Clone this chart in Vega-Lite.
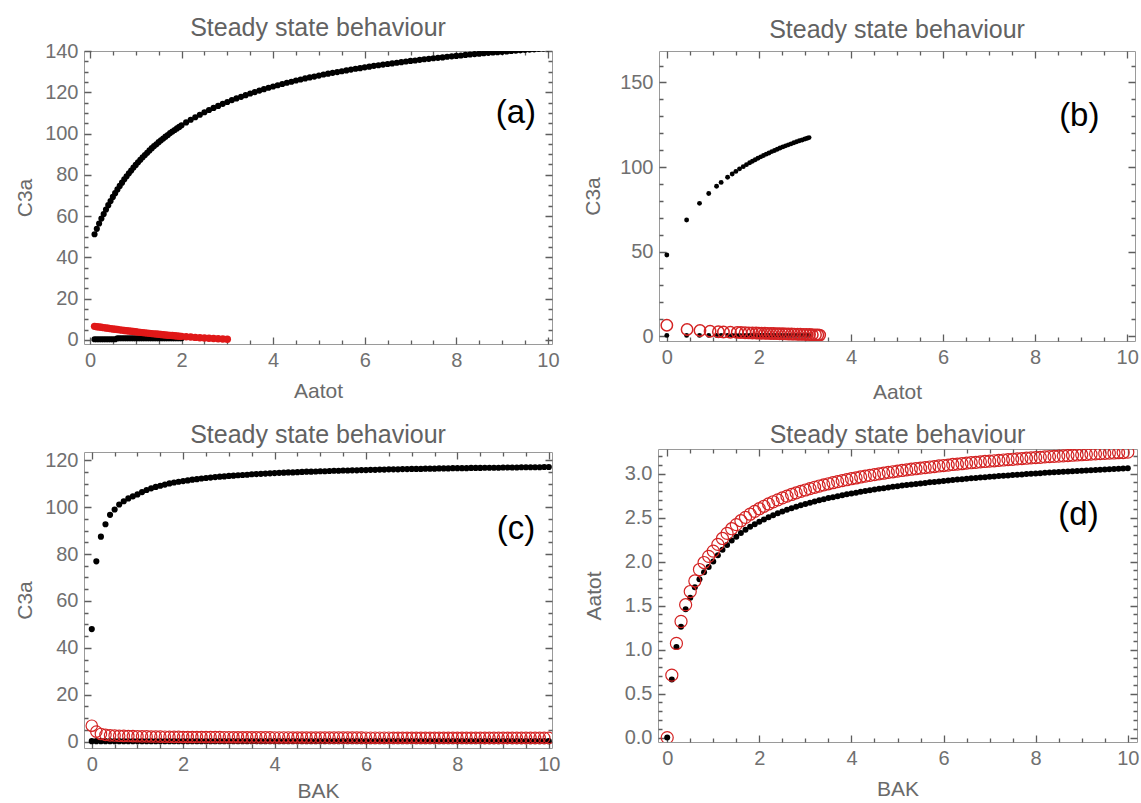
{
"$schema":"https://vega.github.io/schema/vega-lite/v6.json",
"background":"white",
"padding":{"left":14,"top":15,"right":2,"bottom":2},
"config":{
 "font":"Liberation Sans",
 "view":{"stroke":"#9a9a9a","strokeWidth":1},
 "axis":{"domain":false,"ticks":false,"grid":true,"gridColor":"#5e5e5e","gridWidth":1.3,"gridOpacity":1,"labelFont":"Liberation Sans","labelFontSize":20,"labelColor":"#707070","titleFont":"Liberation Sans","titleFontSize":21,"titleColor":"#6a6a6a","titleFontWeight":"normal","labelOverlap":false,"labelFlush":false},
 "title":{"font":"Liberation Sans","fontSize":25,"fontWeight":"normal","color":"#626262","anchor":"middle","frame":"group"}
},
"datasets":{
"a":[
{"A":0.1,"Cb":51.2,"Cr":6.56,"Cl":0.3},{"A":0.15,"Cb":53.8,"Cr":6.4,"Cl":0.3},{"A":0.2,"Cb":56.4,"Cr":6.24,"Cl":0.3},{"A":0.25,"Cb":58.8,"Cr":6.08,"Cl":0.3},{"A":0.3,"Cb":61.0,"Cr":5.92,"Cl":0.3},{"A":0.35,"Cb":63.2,"Cr":5.76,"Cl":0.3},{"A":0.4,"Cb":65.3,"Cr":5.6,"Cl":0.3},{"A":0.45,"Cb":67.3,"Cr":5.45,"Cl":0.3},{"A":0.5,"Cb":69.3,"Cr":5.3,"Cl":0.3},{"A":0.55,"Cb":71.1,"Cr":5.15,"Cl":0.3},
{"A":0.6,"Cb":72.9,"Cr":5.0,"Cl":0.8},{"A":0.65,"Cb":74.6,"Cr":4.86,"Cl":0.8},{"A":0.7,"Cb":76.2,"Cr":4.72,"Cl":0.8},{"A":0.75,"Cb":77.8,"Cr":4.58,"Cl":0.8},{"A":0.8,"Cb":79.3,"Cr":4.44,"Cl":0.8},{"A":0.85,"Cb":80.7,"Cr":4.3,"Cl":0.8},{"A":0.9,"Cb":82.1,"Cr":4.16,"Cl":0.8},{"A":0.95,"Cb":83.5,"Cr":4.03,"Cl":0.8},{"A":1.0,"Cb":84.8,"Cr":3.9,"Cl":0.8},{"A":1.05,"Cb":86.1,"Cr":3.77,"Cl":0.8},
{"A":1.1,"Cb":87.3,"Cr":3.64,"Cl":0.8},{"A":1.15,"Cb":88.5,"Cr":3.52,"Cl":0.8},{"A":1.2,"Cb":89.6,"Cr":3.4,"Cl":0.8},{"A":1.25,"Cb":90.7,"Cr":3.28,"Cl":0.8},{"A":1.3,"Cb":91.8,"Cr":3.16,"Cl":0.8},{"A":1.35,"Cb":92.9,"Cr":3.04,"Cl":0.8},{"A":1.4,"Cb":93.9,"Cr":2.92,"Cl":0.8},{"A":1.45,"Cb":94.8,"Cr":2.81,"Cl":0.8},{"A":1.5,"Cb":95.8,"Cr":2.7,"Cl":0.8},{"A":1.55,"Cb":96.7,"Cr":2.59,"Cl":0.8},
{"A":1.6,"Cb":97.6,"Cr":2.48,"Cl":0.8},{"A":1.65,"Cb":98.5,"Cr":2.38,"Cl":0.8},{"A":1.7,"Cb":99.3,"Cr":2.28,"Cl":0.8},{"A":1.75,"Cb":100.2,"Cr":2.18,"Cl":0.8},{"A":1.8,"Cb":101.0,"Cr":2.08,"Cl":0.8},{"A":1.85,"Cb":101.7,"Cr":1.98,"Cl":0.8},{"A":1.9,"Cb":102.5,"Cr":1.88,"Cl":0.8},{"A":1.95,"Cb":103.2,"Cr":1.79,"Cl":0.8},{"A":2.0,"Cb":104.0,"Cr":1.7,"Cl":0.8},
{"A":2.1,"Cb":105.4,"Cr":1.52},{"A":2.2,"Cb":106.7,"Cr":1.36},{"A":2.3,"Cb":107.9,"Cr":1.2},{"A":2.4,"Cb":109.1,"Cr":1.04},{"A":2.5,"Cb":110.3,"Cr":0.9},{"A":2.6,"Cb":111.4,"Cr":0.76},{"A":2.7,"Cb":112.4,"Cr":0.64},{"A":2.8,"Cb":113.4,"Cr":0.52},{"A":2.9,"Cb":114.4,"Cr":0.4},{"A":3.0,"Cb":115.3,"Cr":0.3},
{"A":3.1,"Cb":116.2},{"A":3.2,"Cb":117.0},{"A":3.3,"Cb":117.8},{"A":3.4,"Cb":118.6},{"A":3.5,"Cb":119.4},{"A":3.6,"Cb":120.1},{"A":3.7,"Cb":120.8},{"A":3.8,"Cb":121.5},{"A":3.9,"Cb":122.2},{"A":4.0,"Cb":122.8},
{"A":4.1,"Cb":123.4},{"A":4.2,"Cb":124.0},{"A":4.3,"Cb":124.6},{"A":4.4,"Cb":125.1},{"A":4.5,"Cb":125.7},{"A":4.6,"Cb":126.2},{"A":4.7,"Cb":126.7},{"A":4.8,"Cb":127.2},{"A":4.9,"Cb":127.6},{"A":5.0,"Cb":128.1},
{"A":5.1,"Cb":128.6},{"A":5.2,"Cb":129.0},{"A":5.3,"Cb":129.4},{"A":5.4,"Cb":129.8},{"A":5.5,"Cb":130.2},{"A":5.6,"Cb":130.6},{"A":5.7,"Cb":131.0},{"A":5.8,"Cb":131.4},{"A":5.9,"Cb":131.7},{"A":6.0,"Cb":132.1},
{"A":6.1,"Cb":132.4},{"A":6.2,"Cb":132.8},{"A":6.3,"Cb":133.1},{"A":6.4,"Cb":133.4},{"A":6.5,"Cb":133.7},{"A":6.6,"Cb":134.0},{"A":6.7,"Cb":134.3},{"A":6.8,"Cb":134.6},{"A":6.9,"Cb":134.9},{"A":7.0,"Cb":135.2},
{"A":7.1,"Cb":135.4},{"A":7.2,"Cb":135.7},{"A":7.3,"Cb":136.0},{"A":7.4,"Cb":136.2},{"A":7.5,"Cb":136.5},{"A":7.6,"Cb":136.7},{"A":7.7,"Cb":136.9},{"A":7.8,"Cb":137.2},{"A":7.9,"Cb":137.4},{"A":8.0,"Cb":137.6},
{"A":8.1,"Cb":137.8},{"A":8.2,"Cb":138.1},{"A":8.3,"Cb":138.3},{"A":8.4,"Cb":138.5},{"A":8.5,"Cb":138.7},{"A":8.6,"Cb":138.9},{"A":8.7,"Cb":139.1},{"A":8.8,"Cb":139.3},{"A":8.9,"Cb":139.4},{"A":9.0,"Cb":139.6},
{"A":9.1,"Cb":139.8},{"A":9.2,"Cb":140.0},{"A":9.3,"Cb":140.2},{"A":9.4,"Cb":140.3},{"A":9.5,"Cb":140.5},{"A":9.6,"Cb":140.7},{"A":9.7,"Cb":140.8},{"A":9.8,"Cb":141.0},{"A":9.9,"Cb":141.1},{"A":10.0,"Cb":141.3}
],
"b":[
{"Ab":0,"Cb":48.0,"Ar":0.0,"Cr":6.4,"Cl":0.4},{"Ab":0.43,"Cb":68.7,"Ar":0.44,"Cr":3.9,"Cl":0.4},{"Ab":0.71,"Cb":78.5,"Ar":0.72,"Cr":3.3,"Cl":0.4},{"Ab":0.91,"Cb":84.3,"Ar":0.94,"Cr":2.9,"Cl":0.4},{"Ab":1.08,"Cb":88.6,"Ar":1.12,"Cr":2.6,"Cl":0.4},{"Ab":1.18,"Cb":90.9,"Ar":1.23,"Cr":2.4,"Cl":0.4},{"Ab":1.32,"Cb":93.9,"Ar":1.38,"Cr":2.3,"Cl":0.4},
{"Ab":1.42,"Cb":95.9,"Ar":1.53,"Cr":2.2,"Cl":0.4},{"Ab":1.5,"Cb":97.4,"Ar":1.61,"Cr":2.1,"Cl":0.4},{"Ab":1.58,"Cb":98.9,"Ar":1.7,"Cr":2.0,"Cl":0.4},{"Ab":1.66,"Cb":100.2,"Ar":1.78,"Cr":1.9,"Cl":0.4},{"Ab":1.73,"Cb":101.4,"Ar":1.86,"Cr":1.85,"Cl":0.4},{"Ab":1.8,"Cb":102.5,"Ar":1.94,"Cr":1.8,"Cl":0.4},{"Ab":1.86,"Cb":103.4,"Ar":2.0,"Cr":1.75,"Cl":0.4},
{"Ab":1.92,"Cb":104.3,"Ar":2.06,"Cr":1.7,"Cl":0.4},{"Ab":1.98,"Cb":105.2,"Ar":2.13,"Cr":1.65,"Cl":0.4},{"Ab":2.04,"Cb":106.0,"Ar":2.19,"Cr":1.6,"Cl":0.4},{"Ab":2.1,"Cb":106.8,"Ar":2.26,"Cr":1.55,"Cl":0.4},{"Ab":2.16,"Cb":107.6,"Ar":2.32,"Cr":1.5,"Cl":0.4},{"Ab":2.22,"Cb":108.3,"Ar":2.39,"Cr":1.45,"Cl":0.4},{"Ab":2.28,"Cb":109.1,"Ar":2.45,"Cr":1.4,"Cl":0.4},
{"Ab":2.34,"Cb":109.8,"Ar":2.52,"Cr":1.35,"Cl":0.4},{"Ab":2.4,"Cb":110.5,"Ar":2.58,"Cr":1.3,"Cl":0.4},{"Ab":2.46,"Cb":111.2,"Ar":2.64,"Cr":1.25,"Cl":0.4},{"Ab":2.52,"Cb":111.9,"Ar":2.71,"Cr":1.2,"Cl":0.4},{"Ab":2.58,"Cb":112.5,"Ar":2.77,"Cr":1.15,"Cl":0.4},{"Ab":2.64,"Cb":113.1,"Ar":2.84,"Cr":1.1,"Cl":0.4},{"Ab":2.7,"Cb":113.7,"Ar":2.9,"Cr":1.05,"Cl":0.4},
{"Ab":2.76,"Cb":114.3,"Ar":2.97,"Cr":1.0,"Cl":0.4},{"Ab":2.82,"Cb":114.9,"Ar":3.03,"Cr":0.95,"Cl":0.4},{"Ab":2.88,"Cb":115.5,"Ar":3.1,"Cr":0.9,"Cl":0.4},{"Ab":2.94,"Cb":116.0,"Ar":3.16,"Cr":0.8,"Cl":0.4},{"Ab":3.0,"Cb":116.6,"Ar":3.23,"Cr":0.75,"Cl":0.4},{"Ab":3.05,"Cb":117.0,"Ar":3.28,"Cr":0.7,"Cl":0.4},{"Ab":3.09,"Cb":117.4,"Ar":3.32,"Cr":0.6,"Cl":0.4}
],
"cd":[
{"BAK":0,"Ab":0,"Ar":0,"Cb":48,"Cr":6.8,"Cl":0.2},{"BAK":0.1,"Ab":0.66,"Ar":0.71,"Cb":76.9,"Cr":4.3,"Cl":0.2},{"BAK":0.2,"Ab":1.03,"Ar":1.07,"Cb":87.4,"Cr":3.3,"Cl":0.2},{"BAK":0.3,"Ab":1.26,"Ar":1.32,"Cb":92.7,"Cr":2.9,"Cl":0.2},{"BAK":0.4,"Ab":1.46,"Ar":1.51,"Cb":96.7,"Cr":2.7,"Cl":0.2},{"BAK":0.5,"Ab":1.59,"Ar":1.66,"Cb":99.0,"Cr":2.6,"Cl":0.2},{"BAK":0.6,"Ab":1.71,"Ar":1.78,"Cb":101.1,"Cr":2.5,"Cl":0.2},{"BAK":0.7,"Ab":1.8,"Ar":1.91,"Cb":102.5,"Cr":2.45,"Cl":0.2},{"BAK":0.8,"Ab":1.88,"Ar":1.99,"Cb":103.7,"Cr":2.4,"Cl":0.2},{"BAK":0.9,"Ab":1.94,"Ar":2.06,"Cb":104.6,"Cr":2.35,"Cl":0.2},
{"BAK":1.0,"Ab":2.0,"Ar":2.12,"Cb":105.4,"Cr":2.3,"Cl":0.2},{"BAK":1.1,"Ab":2.072,"Ar":2.196,"Cb":106.4,"Cr":2.27,"Cl":0.2},{"BAK":1.2,"Ab":2.135,"Ar":2.263,"Cb":107.3,"Cr":2.24,"Cl":0.2},{"BAK":1.3,"Ab":2.19,"Ar":2.321,"Cb":108.0,"Cr":2.21,"Cl":0.2},{"BAK":1.4,"Ab":2.24,"Ar":2.374,"Cb":108.6,"Cr":2.18,"Cl":0.2},{"BAK":1.5,"Ab":2.284,"Ar":2.421,"Cb":109.1,"Cr":2.15,"Cl":0.2},{"BAK":1.6,"Ab":2.325,"Ar":2.465,"Cb":109.6,"Cr":2.12,"Cl":0.2},{"BAK":1.7,"Ab":2.361,"Ar":2.503,"Cb":110.1,"Cr":2.09,"Cl":0.2},{"BAK":1.8,"Ab":2.395,"Ar":2.539,"Cb":110.5,"Cr":2.06,"Cl":0.2},{"BAK":1.9,"Ab":2.425,"Ar":2.571,"Cb":110.8,"Cr":2.03,"Cl":0.2},
{"BAK":2.0,"Ab":2.454,"Ar":2.601,"Cb":111.1,"Cr":2.0,"Cl":0.2},{"BAK":2.1,"Ab":2.48,"Ar":2.629,"Cb":111.4,"Cr":1.99,"Cl":0.2},{"BAK":2.2,"Ab":2.505,"Ar":2.655,"Cb":111.7,"Cr":1.98,"Cl":0.2},{"BAK":2.3,"Ab":2.528,"Ar":2.68,"Cb":111.9,"Cr":1.97,"Cl":0.2},{"BAK":2.4,"Ab":2.549,"Ar":2.702,"Cb":112.2,"Cr":1.96,"Cl":0.2},{"BAK":2.5,"Ab":2.57,"Ar":2.724,"Cb":112.4,"Cr":1.95,"Cl":0.2},{"BAK":2.6,"Ab":2.589,"Ar":2.744,"Cb":112.6,"Cr":1.94,"Cl":0.2},{"BAK":2.7,"Ab":2.607,"Ar":2.763,"Cb":112.8,"Cr":1.93,"Cl":0.2},{"BAK":2.8,"Ab":2.624,"Ar":2.781,"Cb":113.0,"Cr":1.92,"Cl":0.2},{"BAK":2.9,"Ab":2.64,"Ar":2.798,"Cb":113.1,"Cr":1.91,"Cl":0.2},
{"BAK":3.0,"Ab":2.655,"Ar":2.814,"Cb":113.3,"Cr":1.9,"Cl":0.2},{"BAK":3.1,"Ab":2.67,"Ar":2.83,"Cb":113.4,"Cr":1.89,"Cl":0.2},{"BAK":3.2,"Ab":2.684,"Ar":2.845,"Cb":113.6,"Cr":1.88,"Cl":0.2},{"BAK":3.3,"Ab":2.697,"Ar":2.859,"Cb":113.7,"Cr":1.87,"Cl":0.2},{"BAK":3.4,"Ab":2.709,"Ar":2.872,"Cb":113.8,"Cr":1.86,"Cl":0.2},{"BAK":3.5,"Ab":2.722,"Ar":2.885,"Cb":114.0,"Cr":1.85,"Cl":0.2},{"BAK":3.6,"Ab":2.733,"Ar":2.897,"Cb":114.1,"Cr":1.84,"Cl":0.2},{"BAK":3.7,"Ab":2.744,"Ar":2.909,"Cb":114.2,"Cr":1.83,"Cl":0.2},{"BAK":3.8,"Ab":2.755,"Ar":2.92,"Cb":114.3,"Cr":1.82,"Cl":0.2},{"BAK":3.9,"Ab":2.765,"Ar":2.931,"Cb":114.4,"Cr":1.81,"Cl":0.2},
{"BAK":4.0,"Ab":2.775,"Ar":2.942,"Cb":114.5,"Cr":1.8,"Cl":0.2},{"BAK":4.1,"Ab":2.784,"Ar":2.951,"Cb":114.6,"Cr":1.8,"Cl":0.2},{"BAK":4.2,"Ab":2.794,"Ar":2.962,"Cb":114.7,"Cr":1.79,"Cl":0.2},{"BAK":4.3,"Ab":2.803,"Ar":2.971,"Cb":114.8,"Cr":1.79,"Cl":0.2},{"BAK":4.4,"Ab":2.811,"Ar":2.98,"Cb":114.8,"Cr":1.78,"Cl":0.2},{"BAK":4.5,"Ab":2.819,"Ar":2.988,"Cb":114.9,"Cr":1.78,"Cl":0.2},{"BAK":4.6,"Ab":2.827,"Ar":2.997,"Cb":115.0,"Cr":1.77,"Cl":0.2},{"BAK":4.7,"Ab":2.835,"Ar":3.005,"Cb":115.1,"Cr":1.77,"Cl":0.2},{"BAK":4.8,"Ab":2.843,"Ar":3.014,"Cb":115.1,"Cr":1.76,"Cl":0.2},{"BAK":4.9,"Ab":2.85,"Ar":3.021,"Cb":115.2,"Cr":1.76,"Cl":0.2},
{"BAK":5.0,"Ab":2.857,"Ar":3.028,"Cb":115.3,"Cr":1.75,"Cl":0.2},{"BAK":5.1,"Ab":2.864,"Ar":3.036,"Cb":115.3,"Cr":1.75,"Cl":0.2},{"BAK":5.2,"Ab":2.87,"Ar":3.042,"Cb":115.4,"Cr":1.74,"Cl":0.2},{"BAK":5.3,"Ab":2.877,"Ar":3.05,"Cb":115.5,"Cr":1.74,"Cl":0.2},{"BAK":5.4,"Ab":2.883,"Ar":3.056,"Cb":115.5,"Cr":1.73,"Cl":0.2},{"BAK":5.5,"Ab":2.889,"Ar":3.062,"Cb":115.6,"Cr":1.73,"Cl":0.2},{"BAK":5.6,"Ab":2.895,"Ar":3.069,"Cb":115.6,"Cr":1.72,"Cl":0.2},{"BAK":5.7,"Ab":2.901,"Ar":3.075,"Cb":115.7,"Cr":1.72,"Cl":0.2},{"BAK":5.8,"Ab":2.906,"Ar":3.08,"Cb":115.7,"Cr":1.71,"Cl":0.2},{"BAK":5.9,"Ab":2.912,"Ar":3.087,"Cb":115.8,"Cr":1.71,"Cl":0.2},
{"BAK":6.0,"Ab":2.917,"Ar":3.092,"Cb":115.8,"Cr":1.7,"Cl":0.2},{"BAK":6.1,"Ab":2.922,"Ar":3.097,"Cb":115.9,"Cr":1.7,"Cl":0.2},{"BAK":6.2,"Ab":2.928,"Ar":3.104,"Cb":115.9,"Cr":1.69,"Cl":0.2},{"BAK":6.3,"Ab":2.932,"Ar":3.108,"Cb":116.0,"Cr":1.69,"Cl":0.2},{"BAK":6.4,"Ab":2.937,"Ar":3.113,"Cb":116.0,"Cr":1.69,"Cl":0.2},{"BAK":6.5,"Ab":2.942,"Ar":3.119,"Cb":116.1,"Cr":1.69,"Cl":0.2},{"BAK":6.6,"Ab":2.947,"Ar":3.124,"Cb":116.1,"Cr":1.68,"Cl":0.2},{"BAK":6.7,"Ab":2.951,"Ar":3.128,"Cb":116.1,"Cr":1.68,"Cl":0.2},{"BAK":6.8,"Ab":2.956,"Ar":3.133,"Cb":116.2,"Cr":1.68,"Cl":0.2},{"BAK":6.9,"Ab":2.96,"Ar":3.138,"Cb":116.2,"Cr":1.68,"Cl":0.2},
{"BAK":7.0,"Ab":2.964,"Ar":3.142,"Cb":116.3,"Cr":1.67,"Cl":0.2},{"BAK":7.1,"Ab":2.968,"Ar":3.146,"Cb":116.3,"Cr":1.67,"Cl":0.2},{"BAK":7.2,"Ab":2.972,"Ar":3.15,"Cb":116.3,"Cr":1.67,"Cl":0.2},{"BAK":7.3,"Ab":2.976,"Ar":3.155,"Cb":116.4,"Cr":1.67,"Cl":0.2},{"BAK":7.4,"Ab":2.98,"Ar":3.159,"Cb":116.4,"Cr":1.66,"Cl":0.2},{"BAK":7.5,"Ab":2.984,"Ar":3.163,"Cb":116.4,"Cr":1.66,"Cl":0.2},{"BAK":7.6,"Ab":2.988,"Ar":3.167,"Cb":116.5,"Cr":1.66,"Cl":0.2},{"BAK":7.7,"Ab":2.991,"Ar":3.17,"Cb":116.5,"Cr":1.66,"Cl":0.2},{"BAK":7.8,"Ab":2.995,"Ar":3.175,"Cb":116.5,"Cr":1.65,"Cl":0.2},{"BAK":7.9,"Ab":2.999,"Ar":3.179,"Cb":116.6,"Cr":1.65,"Cl":0.2},
{"BAK":8.0,"Ab":3.002,"Ar":3.182,"Cb":116.6,"Cr":1.65,"Cl":0.2},{"BAK":8.1,"Ab":3.005,"Ar":3.185,"Cb":116.6,"Cr":1.65,"Cl":0.2},{"BAK":8.2,"Ab":3.009,"Ar":3.19,"Cb":116.6,"Cr":1.64,"Cl":0.2},{"BAK":8.3,"Ab":3.012,"Ar":3.193,"Cb":116.7,"Cr":1.64,"Cl":0.2},{"BAK":8.4,"Ab":3.015,"Ar":3.196,"Cb":116.7,"Cr":1.64,"Cl":0.2},{"BAK":8.5,"Ab":3.018,"Ar":3.199,"Cb":116.7,"Cr":1.64,"Cl":0.2},{"BAK":8.6,"Ab":3.021,"Ar":3.202,"Cb":116.8,"Cr":1.63,"Cl":0.2},{"BAK":8.7,"Ab":3.024,"Ar":3.205,"Cb":116.8,"Cr":1.63,"Cl":0.2},{"BAK":8.8,"Ab":3.027,"Ar":3.209,"Cb":116.8,"Cr":1.63,"Cl":0.2},{"BAK":8.9,"Ab":3.03,"Ar":3.212,"Cb":116.8,"Cr":1.63,"Cl":0.2},
{"BAK":9.0,"Ab":3.033,"Ar":3.215,"Cb":116.9,"Cr":1.62,"Cl":0.2},{"BAK":9.1,"Ab":3.036,"Ar":3.218,"Cb":116.9,"Cr":1.62,"Cl":0.2},{"BAK":9.2,"Ab":3.039,"Ar":3.221,"Cb":116.9,"Cr":1.62,"Cl":0.2},{"BAK":9.3,"Ab":3.042,"Ar":3.225,"Cb":116.9,"Cr":1.62,"Cl":0.2},{"BAK":9.4,"Ab":3.044,"Ar":3.227,"Cb":117.0,"Cr":1.61,"Cl":0.2},{"BAK":9.5,"Ab":3.047,"Ar":3.23,"Cb":117.0,"Cr":1.61,"Cl":0.2},{"BAK":9.6,"Ab":3.05,"Ar":3.233,"Cb":117.0,"Cr":1.61,"Cl":0.2},{"BAK":9.7,"Ab":3.052,"Ar":3.235,"Cb":117.0,"Cr":1.61,"Cl":0.2},{"BAK":9.8,"Ab":3.055,"Ar":3.238,"Cb":117.0,"Cr":1.6,"Cl":0.2},{"BAK":9.9,"Ab":3.057,"Ar":3.24,"Cb":117.1,"Cr":1.6,"Cl":0.2},
{"BAK":10.0,"Ab":3.06,"Ar":3.244,"Cb":117.1,"Cr":1.6,"Cl":0.2}
]
},
"columns":2,
"align":"none",
"bounds":"full",
"spacing":{"row":19,"column":21},
"concat":[
 {"width":468,"height":293,"title":{"text":"Steady state behaviour","offset":0},
  "data":{"name":"a"},
  "layer":[
   {"transform":[{"fold":["Cb","Cl"],"as":["series","C"]}],
    "mark":{"type":"point","filled":true,"color":"#000000","opacity":1,"size":38,"clip":true},
    "encoding":{
     "x":{"field":"A","type":"quantitative","scale":{"domain":[-0.13,10.09],"nice":false,"zero":false},
      "axis":{"title":"Aatot","format":"~g","values":[0,0.5,1,1.5,2,2.5,3,3.5,4,4.5,5,5.5,6,6.5,7,7.5,8,8.5,9,9.5,10],"gridDash":{"condition":{"test":"datum.value % 2 === 0","value":[7,279,7,1000]},"value":[4,285,4,1000]},"labelExpr":"datum.value % 2 === 0 ? datum.label : ''","labelPadding":6,"titlePadding":10}},
     "y":{"field":"C","type":"quantitative","scale":{"domain":[-2,140],"nice":false,"zero":false},
      "axis":{"title":"C3a","values":[0,5,10,15,20,25,30,35,40,45,50,55,60,65,70,75,80,85,90,95,100,105,110,115,120,125,130,135,140],"gridDash":{"condition":{"test":"datum.value % 20 === 0","value":[7,454,7,1000]},"value":[4,460,4,1000]},"labelExpr":"datum.value % 20 === 0 ? datum.label : ''","labelPadding":6,"titlePadding":9}}
    }},
   {"mark":{"type":"point","filled":true,"color":"#e01818","opacity":1,"size":55,"clip":true},
    "encoding":{
     "x":{"field":"A","type":"quantitative","scale":{"domain":[-0.13,10.09],"nice":false,"zero":false},"axis":null},
     "y":{"field":"Cr","type":"quantitative","scale":{"domain":[-2,140],"nice":false,"zero":false},"axis":null}
    }},
   {"data":{"values":[{}]},
    "mark":{"type":"text","font":"Liberation Sans","fontSize":33,"color":"#000000","align":"center","baseline":"middle"},
    "encoding":{"x":{"datum":9.3,"type":"quantitative","axis":null},"y":{"datum":110,"type":"quantitative","axis":null},"text":{"value":"(a)"}}}
  ],
  "resolve":{"axis":{"x":"independent","y":"independent"}}
 },
 {"width":476,"height":290,"title":{"text":"Steady state behaviour","offset":8},
  "data":{"name":"b"},
  "layer":[
   {"transform":[{"fold":["Cb","Cl"],"as":["series","C"]}],
    "mark":{"type":"point","filled":true,"color":"#000000","opacity":1,"size":24,"clip":true},
    "encoding":{
     "x":{"field":"Ab","type":"quantitative","scale":{"domain":[-0.17,10.17],"nice":false,"zero":false},
      "axis":{"title":"Aatot","format":"~g","values":[0,0.5,1,1.5,2,2.5,3,3.5,4,4.5,5,5.5,6,6.5,7,7.5,8,8.5,9,9.5,10],"gridDash":{"condition":{"test":"datum.value % 2 === 0","value":[7,276,7,1000]},"value":[4,282,4,1000]},"labelExpr":"datum.value % 2 === 0 ? datum.label : ''","labelPadding":6,"titlePadding":14}},
     "y":{"field":"C","type":"quantitative","scale":{"domain":[-2.9,168.6],"nice":false,"zero":false},
      "axis":{"title":"C3a","values":[0,10,20,30,40,50,60,70,80,90,100,110,120,130,140,150,160],"gridDash":{"condition":{"test":"datum.value % 50 === 0","value":[7,462,7,1000]},"value":[4,468,4,1000]},"labelExpr":"datum.value % 50 === 0 ? datum.label : ''","labelPadding":6,"titlePadding":16}}
    }},
   {"mark":{"type":"point","filled":false,"color":"#d42323","strokeWidth":1.5,"opacity":1,"size":130,"clip":true},
    "encoding":{
     "x":{"field":"Ar","type":"quantitative","scale":{"domain":[-0.17,10.17],"nice":false,"zero":false},"axis":null},
     "y":{"field":"Cr","type":"quantitative","scale":{"domain":[-2.9,168.6],"nice":false,"zero":false},"axis":null}
    }},
   {"data":{"values":[{}]},
    "mark":{"type":"text","font":"Liberation Sans","fontSize":33,"color":"#000000","align":"center","baseline":"middle"},
    "encoding":{"x":{"datum":8.96,"type":"quantitative","axis":null},"y":{"datum":130,"type":"quantitative","axis":null},"text":{"value":"(b)"}}}
  ],
  "resolve":{"axis":{"x":"independent","y":"independent"}}
 },
 {"width":468,"height":296,"title":{"text":"Steady state behaviour","offset":2},
  "data":{"name":"cd"},
  "layer":[
   {"transform":[{"fold":["Cb","Cl"],"as":["series","C"]}],
    "mark":{"type":"point","filled":true,"color":"#000000","opacity":1,"size":38,"clip":true},
    "encoding":{
     "x":{"field":"BAK","type":"quantitative","scale":{"domain":[-0.17,10.07],"nice":false,"zero":false},
      "axis":{"title":"BAK","format":"~g","values":[0,0.5,1,1.5,2,2.5,3,3.5,4,4.5,5,5.5,6,6.5,7,7.5,8,8.5,9,9.5,10],"gridDash":{"condition":{"test":"datum.value % 2 === 0","value":[7,282,7,1000]},"value":[4,288,4,1000]},"labelExpr":"datum.value % 2 === 0 ? datum.label : ''","labelPadding":6,"titlePadding":6}},
     "y":{"field":"C","type":"quantitative","scale":{"domain":[-2.7,123.5],"nice":false,"zero":false},
      "axis":{"title":"C3a","values":[0,5,10,15,20,25,30,35,40,45,50,55,60,65,70,75,80,85,90,95,100,105,110,115,120],"gridDash":{"condition":{"test":"datum.value % 20 === 0","value":[7,454,7,1000]},"value":[4,460,4,1000]},"labelExpr":"datum.value % 20 === 0 ? datum.label : ''","labelPadding":6,"titlePadding":9}}
    }},
   {"mark":{"type":"point","filled":false,"color":"#d42323","strokeWidth":1.2,"opacity":1,"size":130,"clip":true},
    "encoding":{
     "x":{"field":"BAK","type":"quantitative","scale":{"domain":[-0.17,10.07],"nice":false,"zero":false},"axis":null},
     "y":{"field":"Cr","type":"quantitative","scale":{"domain":[-2.7,123.5],"nice":false,"zero":false},"axis":null}
    }},
   {"data":{"values":[{}]},
    "mark":{"type":"text","font":"Liberation Sans","fontSize":33,"color":"#000000","align":"center","baseline":"middle"},
    "encoding":{"x":{"datum":9.28,"type":"quantitative","axis":null},"y":{"datum":90.7,"type":"quantitative","axis":null},"text":{"value":"(c)"}}}
  ],
  "resolve":{"axis":{"x":"independent","y":"independent"}}
 },
 {"width":479,"height":293,"title":{"text":"Steady state behaviour","offset":-2},
  "data":{"name":"cd"},
  "layer":[
   {"mark":{"type":"point","filled":true,"color":"#000000","opacity":1,"size":36,"clip":true},
    "encoding":{
     "x":{"field":"BAK","type":"quantitative","scale":{"domain":[-0.2,10.2],"nice":false,"zero":false},
      "axis":{"title":"BAK","format":"~g","values":[0,0.5,1,1.5,2,2.5,3,3.5,4,4.5,5,5.5,6,6.5,7,7.5,8,8.5,9,9.5,10],"gridDash":{"condition":{"test":"datum.value % 2 === 0","value":[7,279,7,1000]},"value":[4,285,4,1000]},"labelExpr":"datum.value % 2 === 0 ? datum.label : ''","labelPadding":6,"titlePadding":10}},
     "y":{"field":"Ab","type":"quantitative","scale":{"domain":[-0.05,3.28],"nice":false,"zero":false},
      "axis":{"title":"Aatot","format":".1f","values":[0,0.1,0.2,0.3,0.4,0.5,0.6,0.7,0.8,0.9,1,1.1,1.2,1.3,1.4,1.5,1.6,1.7,1.8,1.9,2,2.1,2.2,2.3,2.4,2.5,2.6,2.7,2.8,2.9,3,3.1,3.2],"gridDash":{"condition":{"test":"abs(datum.value*2 - round(datum.value*2)) < 0.001","value":[7,465,7,1000]},"value":[4,471,4,1000]},"labelExpr":"abs(datum.value*2 - round(datum.value*2)) < 0.001 ? datum.label : ''","labelPadding":6,"titlePadding":20}}
    }},
   {"mark":{"type":"point","filled":false,"color":"#d42323","strokeWidth":1.2,"opacity":1,"size":145,"clip":true},
    "encoding":{
     "x":{"field":"BAK","type":"quantitative","scale":{"domain":[-0.2,10.2],"nice":false,"zero":false},"axis":null},
     "y":{"field":"Ar","type":"quantitative","scale":{"domain":[-0.05,3.28],"nice":false,"zero":false},"axis":null}
    }},
   {"data":{"values":[{}]},
    "mark":{"type":"text","font":"Liberation Sans","fontSize":33,"color":"#000000","align":"center","baseline":"middle"},
    "encoding":{"x":{"datum":8.93,"type":"quantitative","axis":null},"y":{"datum":2.53,"type":"quantitative","axis":null},"text":{"value":"(d)"}}}
  ],
  "resolve":{"axis":{"x":"independent","y":"independent"}}
 }
]
}
